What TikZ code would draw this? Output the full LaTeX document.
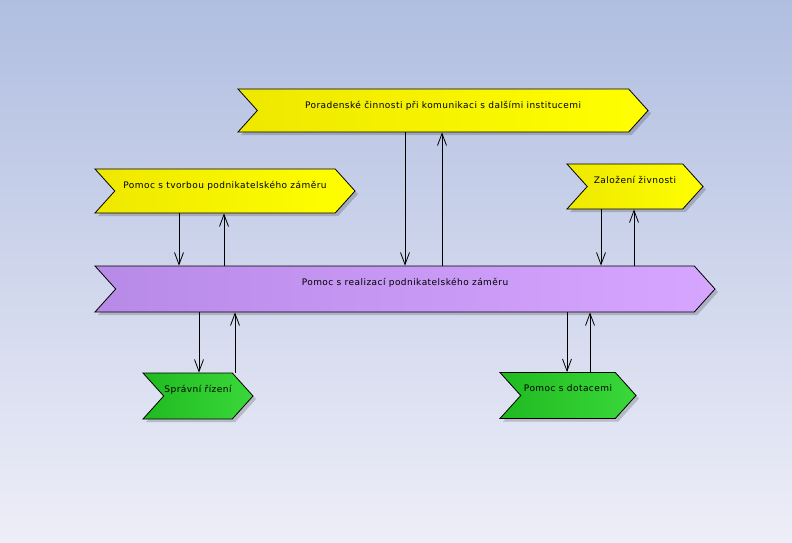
\documentclass[tikz,border=0pt]{standalone}
\usepackage{fontspec}
\setmainfont[LetterSpace=5]{DejaVu Sans}
\usetikzlibrary{shapes.symbols,arrows.meta,shadows}
\newcommand{\fs}{\fontsize{9}{10}\selectfont}

\definecolor{bgtop}{RGB}{176,190,224}
\definecolor{bgbot}{RGB}{238,238,248}
\definecolor{yelL}{RGB}{238,232,0}
\definecolor{yelR}{RGB}{255,255,0}
\definecolor{purL}{RGB}{184,138,232}
\definecolor{purR}{RGB}{214,166,255}
\definecolor{grnL}{RGB}{32,186,32}
\definecolor{grnR}{RGB}{58,216,58}

\begin{document}
\begin{tikzpicture}[x=1pt,y=-1pt,
  chev/.style={signal,signal from=west,signal to=east,signal pointer angle=96,
    draw=black,line width=0.8pt,inner xsep=0pt,inner ysep=0pt,font=\fs,
    text height=19pt,text depth=#1,
    drop shadow={shadow xshift=3pt,shadow yshift=-3pt,fill=black,opacity=0.18}},
  yel/.style={left color=yelL,right color=yelR},
  pur/.style={left color=purL,right color=purR},
  grn/.style={left color=grnL,right color=grnR},
  flow/.style={-{Straight Barb[length=12pt,width=9pt]},line width=0.8pt}]
   \useasboundingbox (0,0) rectangle (792,543);
   \shade[top color=bgtop,bottom color=bgbot] (0,0) rectangle (792,543);

   \node[chev=24pt,yel,minimum width=410pt] (porad) at (443,110.5)
      {Poradenské činnosti při komunikaci s dalšími institucemi};
   \node[chev=25pt,yel,minimum width=260pt] (tvorba) at (225,191)
      {Pomoc s tvorbou podnikatelského záměru};
   \node[chev=26pt,yel,minimum width=136pt] (zivnost) at (635,186.5)
      {Založení živnosti};
   \node[chev=27pt,pur,minimum width=620pt] (realizace) at (405,289)
      {Pomoc s realizací podnikatelského záměru};
   \node[chev=27pt,grn,minimum width=110pt] (rizeni) at (198,396)
      {Správní řízení};
   \node[chev=27pt,grn,minimum width=136pt] (dotace) at (568,395.5)
      {Pomoc s dotacemi};

   \draw[flow] ([xshift=-46pt]tvorba.south) -- ([xshift=-46pt]tvorba.south |- realizace.north);
   \draw[flow] ([xshift=-1pt]tvorba.south |- realizace.north) -- ([xshift=-1pt]tvorba.south);
   \draw[flow] ([xshift=-38pt]porad.south) -- ([xshift=-38pt]porad.south |- realizace.north);
   \draw[flow] ([xshift=-1pt]porad.south |- realizace.north) -- ([xshift=-1pt]porad.south);
   \draw[flow] ([xshift=-34pt]zivnost.south) -- ([xshift=-34pt]zivnost.south |- realizace.north);
   \draw[flow] ([xshift=-1pt]zivnost.south |- realizace.north) -- ([xshift=-1pt]zivnost.south);
   \draw[flow] ([xshift=1pt]rizeni.north |- realizace.south) -- ([xshift=1pt]rizeni.north);
   \draw[flow] ([xshift=37pt]rizeni.north) -- ([xshift=37pt]rizeni.north |- realizace.south);
   \draw[flow] ([xshift=-1pt]dotace.north |- realizace.south) -- ([xshift=-1pt]dotace.north);
   \draw[flow] ([xshift=22pt]dotace.north) -- ([xshift=22pt]dotace.north |- realizace.south);
\end{tikzpicture}
\end{document}
